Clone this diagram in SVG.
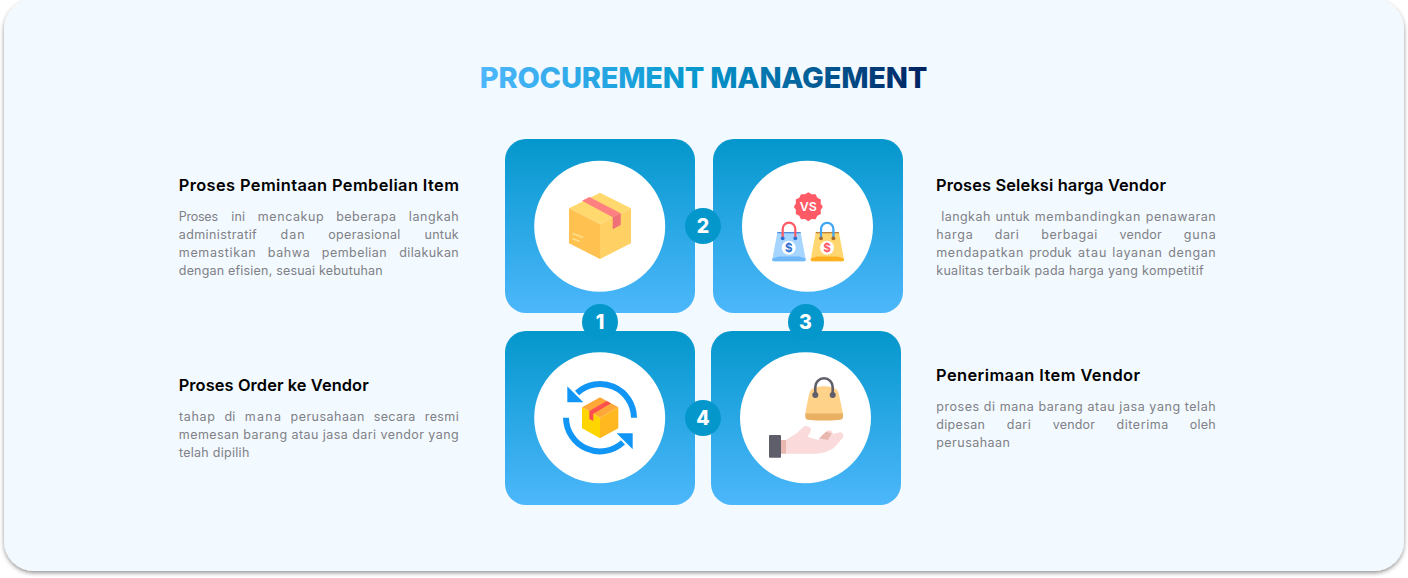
<svg xmlns="http://www.w3.org/2000/svg" width="1408" height="578" viewBox="0 0 1408 578">
<style>
text{font-family:"Inter","Liberation Sans",sans-serif}
.h{font-size:16.4px;font-weight:600;fill:#000}
.b{font-size:12.5px;font-weight:400;fill:#808086}
.n{font-size:19.5px;font-weight:800;fill:#fff;text-anchor:middle}
.card{fill:url(#cardGrad)}
.disc{fill:#fff}
.badge{fill:#0497cc}
</style>
<defs>
<linearGradient id="cardGrad" x1="0" y1="0" x2="0" y2="1"><stop offset="0" stop-color="#0497cc"/><stop offset="1" stop-color="#4db7fc"/></linearGradient>
<linearGradient id="titleGrad" gradientUnits="userSpaceOnUse" x1="481" y1="0" x2="927" y2="0"><stop offset="0" stop-color="#4db7fc"/><stop offset="0.5" stop-color="#0497cc"/><stop offset="1" stop-color="#00215f"/></linearGradient>
<filter id="sh" x="-2%" y="-2%" width="104%" height="104%"><feDropShadow dx="0" dy="2" stdDeviation="2" flood-color="#000" flood-opacity="0.42"/></filter>
</defs>
<rect width="1408" height="578" fill="#fff"/>
<rect id="panel" x="4" y="-1" width="1400" height="572" rx="30" fill="#f2f9ff" filter="url(#sh)"/>
<text id="title" x="479.8" y="87.7" font-size="29" font-weight="800" fill="url(#titleGrad)" textLength="447.5" lengthAdjust="spacing">PROCUREMENT MANAGEMENT</text>

<g id="node-1">
<rect class="card" x="505" y="139" width="190" height="174" rx="21"/>
<circle class="disc" cx="599.7" cy="226.3" r="65.5"/>
<polygon points="600,192.7 631,208.3 600,224 569,208.3" fill="#ffd96e"/>
<polygon points="569,208.3 600,224 600,259 569,243.3" fill="#ffc250"/>
<polygon points="631,208.3 600,224 600,259 631,243.3" fill="#ffd164"/>
<polygon points="582,200.7 589.3,197 620.7,213.3 612.7,217.3" fill="#ff8080"/>
<polygon points="612.7,217.3 620.7,213.3 620.7,225 612.7,229.3" fill="#f0707a"/>
<path d="M572.5 233.5L583 237.5M572.5 238.5L579.5 241.5" stroke="#ffe08a" stroke-width="1.4" fill="none"/>
</g>

<g id="node-2">
<rect class="card" x="713" y="139" width="190" height="174" rx="21"/>
<circle class="disc" cx="807.5" cy="226.3" r="65.5"/>
<polygon fill="#ff5a66" points="808.3,192.2 811.6,194.3 815.55,194.14 817.35,197.65 820.86,199.45 820.66,203.4 822.8,206.7 820.66,210 820.86,213.95 817.35,215.75 815.55,219.26 811.6,219.06 808.3,221.2 805,219.06 801.05,219.26 799.25,215.75 795.74,213.95 795.94,210 793.8,206.7 795.94,203.4 795.74,199.45 799.25,197.65 801.05,194.14 805,194.36"/>
<text x="808.3" y="211.3" font-size="12.4" font-weight="600" fill="#fff" text-anchor="middle">VS</text>
<path d="M777.3 232.7H800.7L805.7 259.5Q806 261.3 804 261.3H774Q772 261.3 772.3 259.5Z" fill="#a6d5ff"/>
<path d="M772.5 258.5L779 256.5H799.5L805.5 258.5L805.7 259.5Q806 261.3 804 261.3H774Q772 261.3 772.3 259.5Z" fill="#6fb8fa"/>
<path d="M777.3 232.7H800.7" stroke="#3f7fd8" stroke-width="1.2"/>
<path d="M782.7 238V229A6.3 6.3 0 0 1 795.3 229V238" fill="none" stroke="#ff5a66" stroke-width="2.2"/>
<circle cx="782.7" cy="238.3" r="1.9" fill="#2e6fd1"/><circle cx="795.3" cy="238.3" r="1.9" fill="#2e6fd1"/>
<circle cx="788.7" cy="247.7" r="7" fill="#fff"/>
<text x="788.7" y="251.9" font-size="11.5" font-weight="700" fill="#2e6fd1" text-anchor="middle">$</text>
<path d="M815.7 232.7H839L844 259.5Q844.3 261.3 842.3 261.3H812.4Q810.4 261.3 810.7 259.5Z" fill="#ffd670"/>
<path d="M810.9 258.5L817 256.5H837.5L843.8 258.5L844 259.5Q844.3 261.3 842.3 261.3H812.4Q810.4 261.3 810.7 259.5Z" fill="#ffb020"/>
<path d="M815.7 232.7H839" stroke="#b9772a" stroke-width="1.2"/>
<path d="M821 238V229A6.2 6.2 0 0 1 833.4 229V238" fill="none" stroke="#3fa5f5" stroke-width="2.2"/>
<circle cx="821" cy="238.3" r="1.9" fill="#a8682a"/><circle cx="833.4" cy="238.3" r="1.9" fill="#a8682a"/>
<circle cx="827" cy="247.7" r="7" fill="#fff"/>
<text x="827" y="251.9" font-size="11.5" font-weight="700" fill="#ff5a66" text-anchor="middle">$</text>
</g>

<g id="node-3">
<rect class="card" x="505" y="331" width="190" height="174" rx="21"/>
<circle class="disc" cx="599.7" cy="417.7" r="65.5"/>
<path d="M634 417.7A34 34 0 0 0 577 393M566 417.7A34 34 0 0 0 623 442.4" fill="none" stroke="#1296f5" stroke-width="6"/>
<polygon points="567.3,386.3 567.3,402.3 583.3,402.3" fill="#1296f5"/>
<polygon points="632.7,433.3 616.7,433.3 632.7,449.3" fill="#1296f5"/>
<polygon points="600,397.3 618.3,407.3 600,417.7 582,407.3" fill="#ffa83a"/>
<polygon points="582,407.3 600,417.7 600,438.3 582,428.3" fill="#ffd500"/>
<polygon points="618.3,407.3 600,417.7 600,438.3 618.3,428.3" fill="#ffb81f"/>
<polygon points="589.3,411 606.7,401 611,403.3 593.3,413.7 593.3,421 589.3,419" fill="#ff5050"/>
</g>

<g id="node-4">
<rect class="card" x="711" y="331" width="190" height="174" rx="21"/>
<circle class="disc" cx="805.5" cy="417.7" r="65.5"/>
<path d="M805.3 413.3C808 400 809 392 811 390C815 385 833 385 837 390C839 392 840 400 843 413.3Z" fill="#ffd28a"/>
<path d="M805.3 413.3H843V417Q843 420 838 420Q824 421 810 420Q805.3 420 805.3 417Z" fill="#e8b060"/>
<path d="M815.3 395V387A8.7 8.7 0 0 1 832.7 387V395" fill="none" stroke="#5f5f6b" stroke-width="2.6"/>
<circle cx="815.3" cy="395" r="3" fill="#5f5f6b"/><circle cx="832.7" cy="395" r="3" fill="#5f5f6b"/>
<path d="M786 440L796.7 433.3L803.3 427Q807 424.5 810.5 428Q812 431 807.3 436.7L818.3 440L826.7 431Q829.5 429.5 832 431.5L833 434L840 432.3Q843.5 432.5 843.3 436.7Q838 444 833.3 448.3Q826 453 816.7 453.7H786Z" fill="#fadada"/>
<polygon points="819,438.3 826,431.7 831.7,433.3 828,440" fill="#e8b8b0"/>
<rect x="781" y="440" width="5" height="13.7" fill="#e8b8b0"/>
<rect x="769" y="435" width="12" height="22.7" rx="1" fill="#5f5f6b"/>
</g>

<g id="badges">
<g id="badge-1"><circle class="badge" cx="600" cy="322" r="18"/><text class="n" x="600" y="329">1</text></g>
<g id="badge-2"><circle class="badge" cx="703" cy="226" r="18"/><text class="n" x="703" y="233">2</text></g>
<g id="badge-3"><circle class="badge" cx="806" cy="322" r="18"/><text class="n" x="805.5" y="329">3</text></g>
<g id="badge-4"><circle class="badge" cx="703" cy="418" r="18"/><text class="n" x="703" y="425">4</text></g>
</g>

<g id="text-1">
<text class="h" x="178.7" y="191" textLength="280.2">Proses Pemintaan Pembelian Item</text>
<text class="b" y="221"><tspan x="178.7" textLength="39.3">Proses</tspan> <tspan x="231.3" textLength="13.7">ini</tspan> <tspan x="257.8" textLength="65.9">mencakup</tspan> <tspan x="336.2" textLength="59.8">beberapa</tspan> <tspan x="408.8" textLength="49.9">langkah</tspan></text>
<text class="b" y="239"><tspan x="178.8" textLength="77.9">administratif</tspan> <tspan x="280.5" textLength="24.2">dan</tspan> <tspan x="328.2" textLength="72.1">operasional</tspan> <tspan x="424.6" textLength="34.1">untuk</tspan></text>
<text class="b" y="257"><tspan x="178.8" textLength="76.9">memastikan</tspan> <tspan x="267.8" textLength="41.9">bahwa</tspan> <tspan x="321.8" textLength="64.9">pembelian</tspan> <tspan x="399.2" textLength="59.5">dilakukan</tspan></text>
<text class="b" x="178.8" y="275" textLength="203.9">dengan efisien, sesuai kebutuhan</text>
</g>

<g id="text-2">
<text class="h" x="936" y="191" textLength="230">Proses Seleksi harga Vendor</text>
<text class="b" y="221"><tspan x="941.2" textLength="49.1">langkah</tspan> <tspan x="995.6" textLength="34.1">untuk</tspan> <tspan x="1034.8" textLength="105.5">membandingkan</tspan> <tspan x="1145.8" textLength="69.9">penawaran</tspan></text>
<text class="b" y="239"><tspan x="936.2" textLength="36.5">harga</tspan> <tspan x="994.8" textLength="23.9">dari</tspan> <tspan x="1041.2" textLength="56.1">berbagai</tspan> <tspan x="1119.5" textLength="42.2">vendor</tspan> <tspan x="1183.8" textLength="31.9">guna</tspan></text>
<text class="b" y="257"><tspan x="936.2" textLength="87.1">mendapatkan</tspan> <tspan x="1029.2" textLength="42.5">produk</tspan> <tspan x="1077.9" textLength="28.4">atau</tspan> <tspan x="1112.2" textLength="49.8">layanan</tspan> <tspan x="1168.2" textLength="47.5">dengan</tspan></text>
<text class="b" x="936.2" y="275" textLength="267.5">kualitas terbaik pada harga yang kompetitif</text>
</g>

<g id="text-3">
<text class="h" x="178.7" y="391" textLength="190">Proses Order ke Vendor</text>
<text class="b" y="421"><tspan x="178.9" textLength="36.1">tahap</tspan> <tspan x="224.5" textLength="10.8">di</tspan> <tspan x="244.8" textLength="36.2">mana</tspan> <tspan x="290.5" textLength="73.8">perusahaan</tspan> <tspan x="373.8" textLength="41.5">secara</tspan> <tspan x="424.8" textLength="33.9">resmi</tspan></text>
<text class="b" x="178.8" y="439" textLength="279.9">memesan barang atau jasa dari vendor yang</text>
<text class="b" x="178.9" y="457" textLength="70.4">telah dipilih</text>
</g>

<g id="text-4">
<text class="h" x="936" y="381" textLength="204">Penerimaan Item Vendor</text>
<text class="b" x="936.2" y="411" textLength="279.5">proses di mana barang atau jasa yang telah</text>
<text class="b" y="429"><tspan x="936.2" textLength="48.8">dipesan</tspan> <tspan x="1006.8" textLength="23.9">dari</tspan> <tspan x="1052.8" textLength="42.2">vendor</tspan> <tspan x="1116.5" textLength="51.8">diterima</tspan> <tspan x="1189.8" textLength="25.9">oleh</tspan></text>
<text class="b" x="936.2" y="447" textLength="73.8">perusahaan</text>
</g>
</svg>
